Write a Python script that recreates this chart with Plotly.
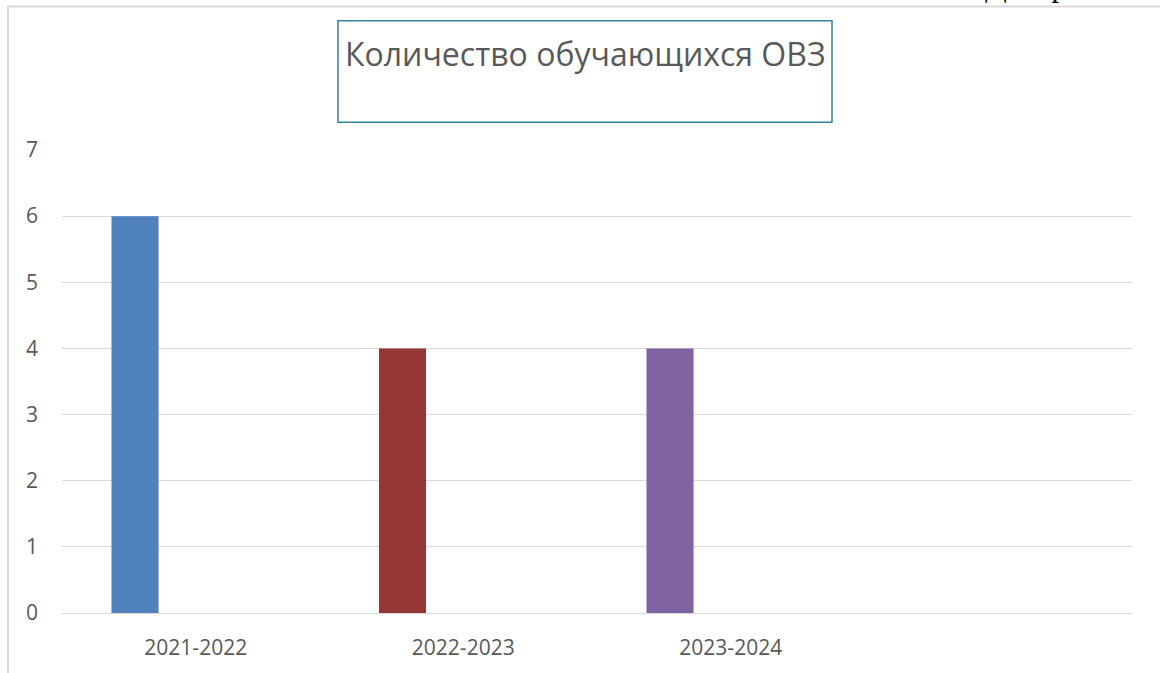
import plotly.graph_objects as go

categories = ["2021-2022", "2022-2023", "2023-2024"]
positions = [0, 1, 2]
values = [6, 4, 4]
bar_colors = ["#4F81BD", "#953735", "#8064A2"]
y_ticks = [0, 1, 2, 3, 4, 5, 6, 7]
title_text = "Количество обучающихся ОВЗ"

W, H = 1160, 673
L, R, T, B = 62, 28, 150, 57
pw, ph = W - L - R, H - T - B


def px_x(px):
    return (px - L) / pw


def px_y(py):
    return (H - B - py) / ph


fig = go.Figure()
fig.add_trace(go.Bar(
    x=positions, y=values,
    marker=dict(color=bar_colors, line=dict(width=0)),
    width=0.176, offset=-0.315,
    hoverinfo="skip",
))

fig.update_layout(
    width=W, height=H,
    margin=dict(l=L, r=R, t=T, b=B, pad=0),
    paper_bgcolor="white", plot_bgcolor="white",
    showlegend=False,
    font=dict(family="Open Sans", color="#595959", size=21),
    xaxis=dict(
        range=[-0.5, 3.5], tickvals=positions, ticktext=categories,
        showgrid=False, zeroline=False, showline=True, linecolor="#D9D9D9",
        linewidth=1, ticks="", ticklabelstandoff=16,
        tickfont=dict(size=21, color="#595959"), fixedrange=True,
    ),
    yaxis=dict(
        range=[0, 7], tickvals=y_ticks, showgrid=True, gridcolor="#D9D9D9",
        gridwidth=1, zeroline=False, showline=False, ticks="",
        ticklabelstandoff=23, tickfont=dict(size=21, color="#595959"),
        fixedrange=True,
    ),
    shapes=[
        dict(type="rect", xref="paper", yref="paper",
             x0=px_x(8), x1=px_x(1175), y0=px_y(690), y1=px_y(5.5),
             line=dict(color="#D9D9D9", width=2), fillcolor="rgba(0,0,0,0)",
             layer="below"),
        dict(type="rect", xref="paper", yref="paper",
             x0=px_x(338), x1=px_x(832), y0=px_y(122), y1=px_y(20),
             line=dict(color="#31849B", width=1.5), fillcolor="white"),
    ],
    annotations=[
        dict(text=title_text, xref="paper", yref="paper",
             x=px_x(585), y=px_y(53), xanchor="center", yanchor="middle",
             showarrow=False, font=dict(size=32, color="#595959", family="Open Sans")),
        dict(text="Диаграмма", xref="paper", yref="paper",
             x=px_x(983), y=px_y(4), xanchor="left", yanchor="bottom",
             showarrow=False, font=dict(size=32, color="black", family="Liberation Serif")),
    ],
)

fig.write_html("out.html", config={"displayModeBar": False})
